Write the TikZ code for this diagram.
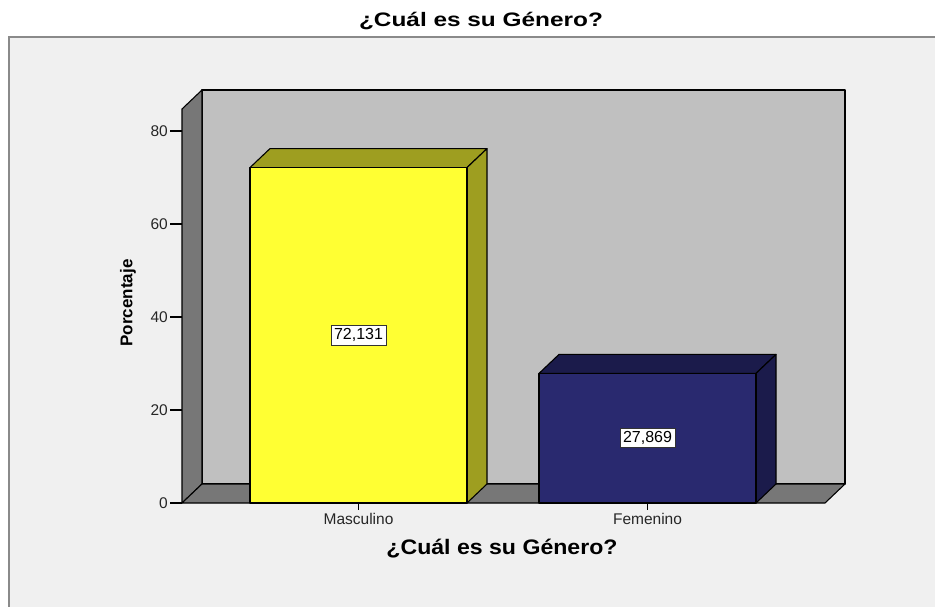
\documentclass[tikz,border=0pt]{standalone}
\usepackage{fontspec}
\setmainfont{Liberation Sans}
\newfontfamily\widefont[FakeStretch=1.25]{Liberation Sans}
\newfontfamily\xwidefont[FakeStretch=1.1]{Liberation Sans}
\usetikzlibrary{positioning}

\definecolor{panelgray}{HTML}{F0F0F0}
\definecolor{framegray}{HTML}{8A8A8A}
\definecolor{wallgray}{HTML}{C0C0C0}
\definecolor{floorgray}{HTML}{777777}
\definecolor{barYellow}{HTML}{FFFF33}
\definecolor{barYellowDark}{HTML}{9E9E20}
\definecolor{barNavy}{HTML}{29296F}
\definecolor{barNavyDark}{HTML}{1B1B4B}

\begin{document}
\begin{tikzpicture}[x=1pt, y=-1pt,
        face/.style={draw=black, line width=1.1pt, line join=round},
        ticklabel/.style={font=\fontsize{15.5}{15.5}\selectfont, text=black!85, inner sep=1pt},
        valuebox/.style={draw=black!80, fill=white, line width=0.8pt, font=\fontsize{16}{16}\selectfont, inner sep=3pt},
        axistitle/.style={font=\xwidefont\bfseries\fontsize{21}{21}\selectfont}]

    \useasboundingbox (0,0) rectangle (935,607);
    \draw[fill=panelgray, draw=framegray, line width=1.6pt] (9,37) rectangle (945,620);

    \node (title) at (481,21) {\widefont\bfseries\fontsize{19.5}{19.5}\selectfont ¿Cuál es su Género?};

    % walls and floor
    \draw[face, fill=wallgray] (202,90) rectangle (845,484);
    \draw[face, fill=floorgray] (182,109) -- (202,90) -- (202,484) -- (182,503) -- cycle;
    \draw[face, fill=floorgray] (182,503) -- (202,484) -- (845,484) -- (825,503) -- cycle;

    % y axis
    \foreach \v in {0,20,40,60,80} {
        \draw[line width=1.1pt] (170,{503-\v*4.65}) -- (182,{503-\v*4.65});
        \node[ticklabel, anchor=east] (ylab\v) at (169,{503-\v*4.65}) {\v};
    }

    % bars
    \foreach \name/\lx/\val/\front/\side/\txt/\lab in {masc/250/72.131/barYellow/barYellowDark/{72,131}/Masculino,
                                                       fem/539/27.869/barNavy/barNavyDark/{27,869}/Femenino} {
        \pgfmathsetmacro{\ytop}{503-\val*4.65}
        \draw[face, fill=\side] (\lx,\ytop) -- ++(20,-19) -- ++(217,0) -- ++(-20,19) -- cycle;
        \draw[face, fill=\side] ({\lx+217},\ytop) -- ++(20,-19) -- ++(0,{503-\ytop}) -- ++(-20,19) -- cycle;
        \draw[face, fill=\front] (\lx,\ytop) rectangle ({\lx+217},503);
        \node[valuebox] (val\name) at ({\lx+108.5},{(\ytop+503)/2}) {\txt};
        \draw[line width=1.1pt] ({\lx+108.5},503) -- ++(0,7) coordinate (tick\name);
        \node[ticklabel, below=2pt of tick\name] (lab\name) {\lab};
    }

    \node[axistitle] (xtitle) at (502,549) {¿Cuál es su Género?};
    \node[font=\bfseries\fontsize{17}{17}\selectfont, rotate=90] (ytitle) at (128,303) {Porcentaje};
\end{tikzpicture}
\end{document}
